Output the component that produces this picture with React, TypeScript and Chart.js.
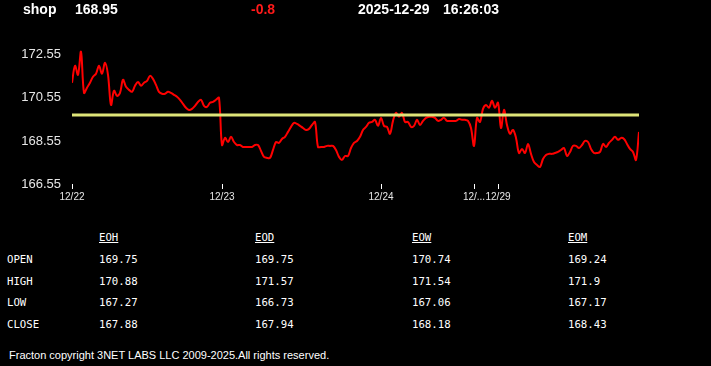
import React, { useEffect, useRef } from "react";
import { Chart, registerables } from "chart.js";

Chart.register(...registerables);

// ---- header ----
const symbol = "shop";
const lastPrice = "168.95";
const change = "-0.8";
const dateText = "2025-12-29";
const timeText = "16:26:03";

// ---- intraday series (one value per sample) ----
const prices = [
  171.25, 172.04, 171.62, 172.69, 170.78, 171.02, 171.25, 171.53, 171.67, 172.04,
  171.67, 172.18, 171.62, 170.22, 170.88, 170.64, 170.78, 171.39, 171.06, 170.92,
  170.83, 171.11, 171.29, 171.11, 171.25, 171.34, 171.57, 171.43, 171.15, 170.83,
  170.74, 170.74, 170.83, 170.78, 170.69, 170.6, 170.46, 170.27, 170.09, 169.99,
  170.04, 170.18, 170.36, 170.46, 170.18, 170.13, 170.32, 170.36, 170.46, 170.55,
  168.36, 168.69, 168.5, 168.74, 168.5, 168.36, 168.36, 168.27, 168.27, 168.27,
  168.27, 168.36, 168.36, 168.09, 167.81, 167.76, 167.76, 168.13, 168.5, 168.46,
  168.64, 168.74, 168.97, 169.2, 169.39, 169.34, 169.25, 169.15, 169.06, 169.11,
  169.29, 169.43, 168.27, 168.27, 168.27, 168.32, 168.32, 168.32, 168.13, 167.81,
  167.67, 167.85, 167.85, 168.22, 168.46, 168.55, 168.74, 169.06, 169.2, 169.39,
  169.43, 169.53, 169.25, 169.62, 169.25, 169.2, 168.88, 169.48, 169.85, 169.67,
  169.85, 169.43, 169.43, 169.2, 169.25, 169.53, 169.29, 169.48, 169.62, 169.67,
  169.67, 169.62, 169.48, 169.53, 169.62, 169.48, 169.48, 169.48, 169.48, 169.57,
  169.53, 169.53, 169.48, 169.15, 168.32, 169.62, 169.43, 170.04, 170.22, 170.09,
  170.41, 170.09, 170.32, 169.15, 169.99, 169.29, 168.88, 169.06, 168.69, 167.99,
  168.18, 167.99, 168.41, 167.95, 167.57, 167.43, 167.34, 167.71, 167.9, 167.95,
  167.95, 167.99, 168.04, 168.13, 168.22, 167.85, 168.04, 168.32, 168.32, 168.22,
  168.36, 168.55, 168.5, 168.18, 167.99, 167.99, 168.04, 168.41, 168.27, 168.46,
  168.6, 168.74, 168.6, 168.69, 168.64, 168.41, 168.18, 168.04, 167.67, 168.97,
];
const openPrice = 169.75;

// ---- axes ----
const yTicks = [166.55, 168.55, 170.55, 172.55];
const yMin = 166.55;
const yMax = 173.05;
const dayTickIndex = [0, 50, 103, 134, 142];
const dayTickLabels = ["12/22", "12/23", "12/24", "12/...", "12/29"];

// ---- summary table ----
const tableColumns = ["EOH", "EOD", "EOW", "EOM"];
const tableRows = ["OPEN", "HIGH", "LOW", "CLOSE"];
const eohValues = ["169.75", "170.88", "167.27", "167.88"];
const eodValues = ["169.75", "171.57", "166.73", "167.94"];
const eowValues = ["170.74", "171.54", "167.06", "168.18"];
const eomValues = ["169.24", "171.9", "167.17", "168.43"];
const tableValues = [eohValues, eodValues, eowValues, eomValues];

const footerText = "Fracton copyright 3NET LABS LLC 2009-2025.All rights reserved.";

const SANS = '"Liberation Sans", Arial, sans-serif';
const MONO = '"DejaVu Sans Mono", "Liberation Mono", monospace';

export default function App() {
  const canvasRef = useRef<HTMLCanvasElement | null>(null);

  useEffect(() => {
    document.body.style.margin = "0";
    document.body.style.background = "#000";
    const canvas = canvasRef.current;
    if (!canvas) return;
    const lastIndex = prices.length - 1;
    const chart = new Chart(canvas, {
      type: "line",
      data: {
        datasets: [
          {
            label: "open",
            data: [
              { x: 0, y: openPrice },
              { x: lastIndex, y: openPrice },
            ],
            borderColor: "rgb(222, 228, 120)",
            borderWidth: 3,
            pointRadius: 0,
            tension: 0,
          },
          {
            label: symbol,
            data: prices.map((p, i) => ({ x: i, y: p })),
            borderColor: "#ff0000",
            borderWidth: 2,
            pointRadius: 0,
            tension: 0.35,
          },
        ],
      },
      options: {
        responsive: false,
        animation: false,
        devicePixelRatio: 1,
        layout: { padding: { top: 44, right: 72, left: 0, bottom: 0 } },
        plugins: {
          legend: { display: false },
          tooltip: { enabled: false },
          title: { display: false },
        },
        scales: {
          x: {
            type: "linear",
            min: 0,
            max: lastIndex,
            border: { display: false },
            grid: {
              display: true,
              drawOnChartArea: false,
              drawTicks: true,
              tickLength: 5,
              color: "#ffffff",
              lineWidth: 1,
            },
            afterBuildTicks: (scale: any) => {
              scale.ticks = dayTickIndex.map((v) => ({ value: v }));
            },
            afterFit: (scale: any) => {
              scale.height = 26;
            },
            ticks: {
              autoSkip: false,
              maxRotation: 0,
              padding: 2,
              color: "#e6e6e6",
              font: { family: SANS, size: 10 },
              callback: (value: any) => {
                const k = dayTickIndex.indexOf(Number(value));
                return k >= 0 ? dayTickLabels[k] : "";
              },
            },
          },
          y: {
            type: "linear",
            min: yMin,
            max: yMax,
            border: { display: false },
            grid: { display: false, drawTicks: false },
            afterBuildTicks: (scale: any) => {
              scale.ticks = yTicks.map((v) => ({ value: v }));
            },
            afterFit: (scale: any) => {
              scale.width = 72;
            },
            ticks: {
              padding: 11,
              color: "#e6e6e6",
              font: { family: SANS, size: 13 },
              callback: (value: any) => Number(value).toFixed(2),
            },
          },
        },
      },
    });
    return () => chart.destroy();
  }, []);

  const headerStyle: React.CSSProperties = {
    position: "absolute",
    top: 1,
    fontFamily: SANS,
    fontWeight: "bold",
    fontSize: 14,
    lineHeight: "16px",
    color: "#ffffff",
    whiteSpace: "nowrap",
  };
  const cellStyle: React.CSSProperties = {
    position: "absolute",
    fontFamily: MONO,
    fontSize: 10.7,
    lineHeight: "14px",
    color: "#ffffff",
    whiteSpace: "nowrap",
  };
  const colX = [99, 255, 412, 568];
  const rowY = [260, 281.5, 303, 324.5];
  const headY = 237.5;

  return (
    <div
      style={{
        position: "fixed",
        left: 0,
        top: 0,
        width: 711,
        height: 366,
        background: "#000",
        overflow: "hidden",
      }}
    >
      <canvas
        ref={canvasRef}
        width={711}
        height={210}
        style={{ position: "absolute", left: 0, top: 0, width: 711, height: 210 }}
      />
      <div style={{ ...headerStyle, left: 23 }}>{symbol}</div>
      <div style={{ ...headerStyle, left: 75 }}>{lastPrice}</div>
      <div style={{ ...headerStyle, left: 251, color: "#ff1a1a" }}>{change}</div>
      <div style={{ ...headerStyle, left: 358 }}>{dateText}</div>
      <div style={{ ...headerStyle, left: 443 }}>{timeText}</div>

      {tableColumns.map((c, ci) => (
        <div
          key={"h" + c}
          style={{ ...cellStyle, left: colX[ci], top: headY - 7, textDecoration: "underline" }}
        >
          {c}
        </div>
      ))}
      {tableRows.map((r, ri) => (
        <React.Fragment key={r}>
          <div style={{ ...cellStyle, left: 7, top: rowY[ri] - 7 }}>{r}</div>
          {tableValues.map((col, ci) => (
            <div key={r + ci} style={{ ...cellStyle, left: colX[ci], top: rowY[ri] - 7 }}>
              {col[ri]}
            </div>
          ))}
        </React.Fragment>
      ))}

      <div
        style={{
          position: "absolute",
          left: 9,
          top: 348,
          fontFamily: SANS,
          fontSize: 11,
          lineHeight: "14px",
          color: "#ffffff",
          whiteSpace: "nowrap",
        }}
      >
        {footerText}
      </div>
    </div>
  );
}
